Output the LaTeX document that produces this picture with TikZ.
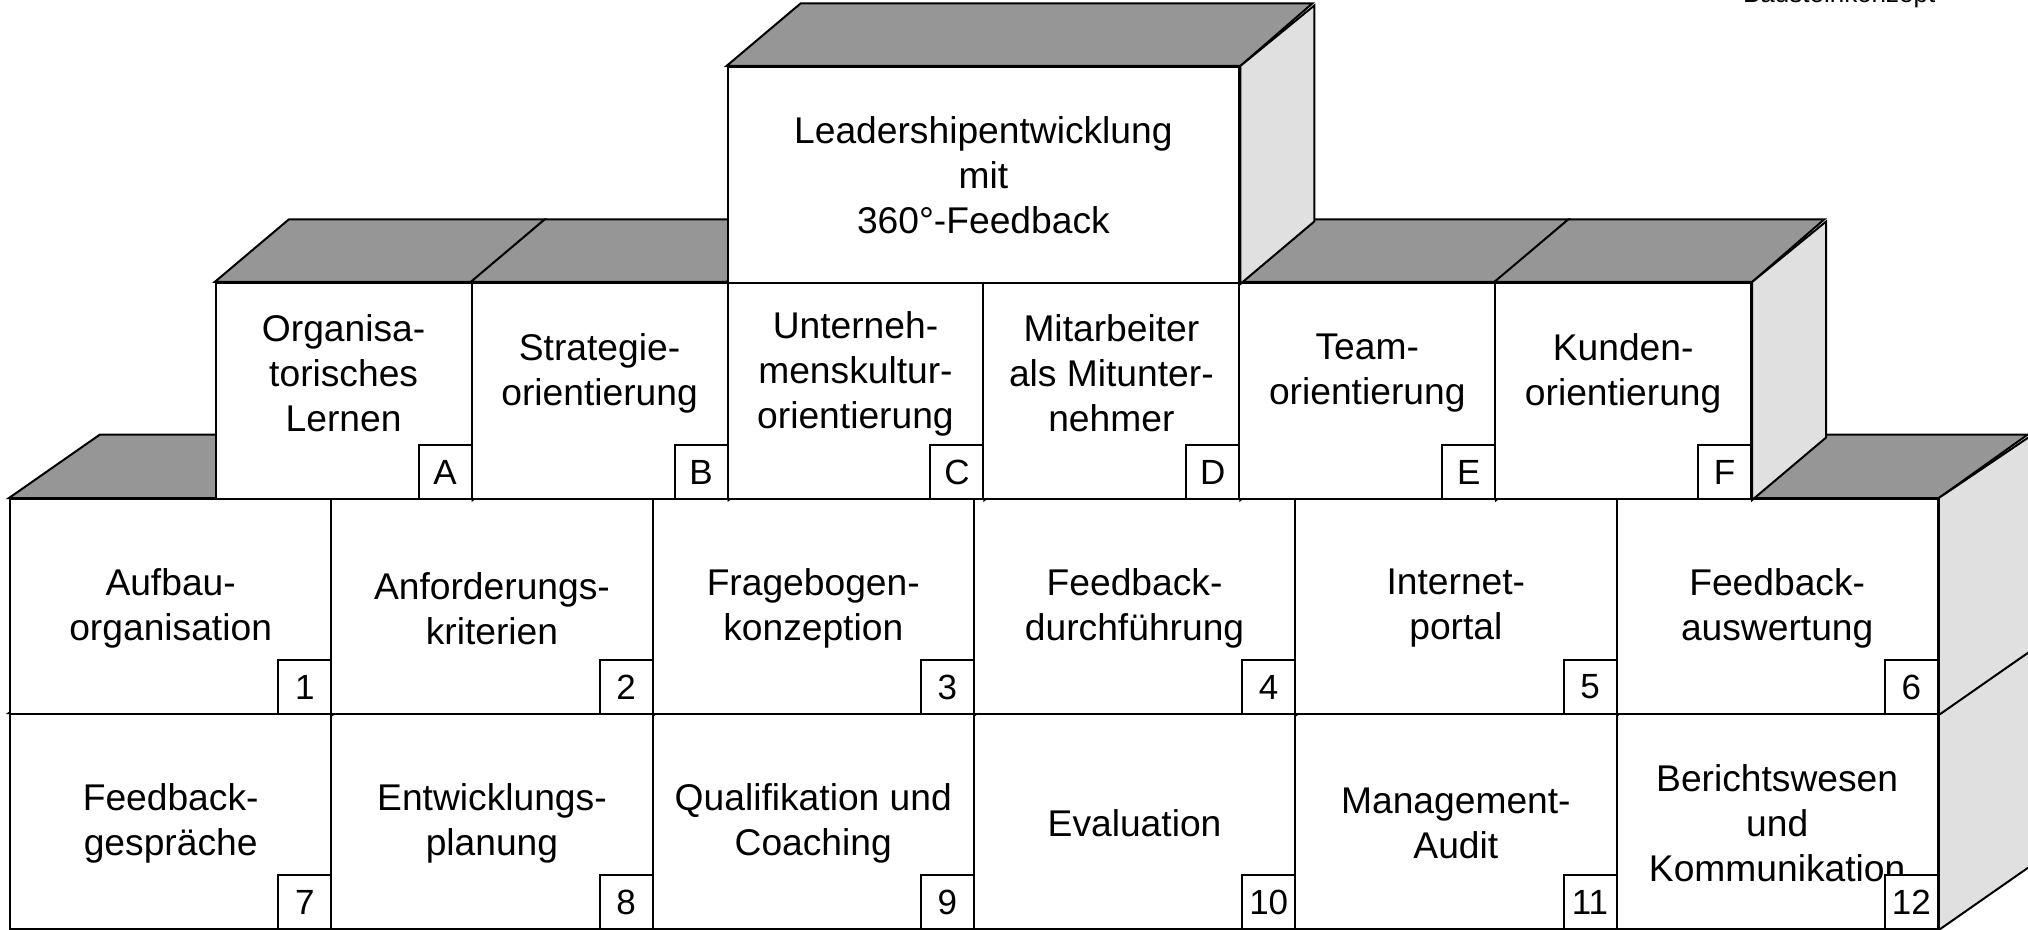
\documentclass[tikz,border=0pt]{standalone}
\usepackage{fontspec}
\setmainfont{Liberation Sans}
\usetikzlibrary{calc}
\definecolor{topgrey}{RGB}{150,150,150}
\definecolor{sidegrey}{RGB}{224,224,224}

\begin{document}
\begin{tikzpicture}[x=0.5pt,y=-0.5pt,line width=1pt,
    front/.style={draw, fill=white, inner sep=0pt, anchor=north west},
    txt/.style={font=\fontsize{18.6}{22.5}\selectfont, align=center},
    tag/.style={draw, fill=white, anchor=south east, inner sep=0pt,
        minimum width=26.5pt, minimum height=27pt,
        font=\fontsize{17.5}{20}\selectfont},
    topface/.style={draw, fill=topgrey},
    sideface/.style={draw, fill=sidegrey}]
    \useasboundingbox (0,0) rectangle (2028,930);

    \node[anchor=base east, font=\fontsize{13}{15}\selectfont] (title) at (1943,3) {Bausteinkonzept};

    % lowest row 7..12
    \foreach \t [count=\i, evaluate=\i as \n using int(\i+6),
                 evaluate=\i as \xa using 9+(\i-1)*321.3] in
        {Feedback-\\gespräche, Entwicklungs-\\planung, Qualifikation und\\Coaching,
         Evaluation, Management-\\Audit, Berichtswesen\\und\\Kommunikation}
    {
        \node[front, minimum width=160.65pt, minimum height=107.5pt] (b\n) at (\xa,713) {};
        \draw[topface] (b\n.north west) -- ++(91,-63.5) -- ++(321.3,0) -- (b\n.north east) -- cycle;
        \draw[sideface] (b\n.south east) -- ++(91,-63.5) -- ++(0,-215) -- (b\n.north east) -- cycle;
        \node[txt] (b\n-txt) at ([yshift=-1pt]b\n.center) {\t};
        \node[tag] (b\n-tag) at (b\n.south east) {\n};
    }

    % row 1..6
    \foreach \t [count=\i, evaluate=\i as \xa using 9+(\i-1)*321.3] in
        {Aufbau-\\organisation, Anforderungs-\\kriterien, Fragebogen-\\konzeption,
         Feedback-\\durchführung, Internet-\\portal, Feedback-\\auswertung}
    {
        \node[front, minimum width=160.65pt, minimum height=107.5pt] (b\i) at (\xa,498) {};
        \draw[topface] (b\i.north west) -- ++(91,-63.5) -- ++(321.3,0) -- (b\i.north east) -- cycle;
        \draw[sideface] (b\i.south east) -- ++(91,-63.5) -- ++(0,-215) -- (b\i.north east) -- cycle;
        \node[txt] (b\i-txt) at ([yshift=-1pt]b\i.center) {\t};
        \node[tag] (b\i-tag) at (b\i.south east) {\i};
    }

    % row A..F
    \foreach \t/\l [count=\i, evaluate=\i as \xa using 214.7+(\i-1)*255.9] in
        {Organisa-\\torisches\\Lernen/A, Strategie-\\orientierung/B,
         Unterneh-\\menskultur-\\orientierung/C, Mitarbeiter\\als Mitunter-\\nehmer/D,
         Team-\\orientierung/E, Kunden-\\orientierung/F}
    {
        \node[front, minimum width=127.95pt, minimum height=108pt] (m\l) at (\xa,282) {};
        \draw[topface] (m\l.north west) -- ++(74,-62.5) -- ++(255.9,0) -- (m\l.north east) -- cycle;
        \draw[sideface] (m\l.south east) -- ++(74,-62.5) -- ++(0,-216) -- (m\l.north east) -- cycle;
        \node[txt] (m\l-txt) at ([yshift=8.75pt]m\l.center) {\t};
        \node[tag] (m\l-tag) at (m\l.south east) {\l};
    }

    % top block
    \node[front, minimum width=255.9pt, minimum height=108pt] (top) at (726.5,66) {};
    \draw[topface] (top.north west) -- ++(74,-62.5) -- ++(511.8,0) -- (top.north east) -- cycle;
    \draw[sideface] (top.south east) -- ++(74,-62.5) -- ++(0,-216) -- (top.north east) -- cycle;
    \node[txt] (top-txt) at (top.center) {Leadershipentwicklung\\mit\\360°-Feedback};

\end{tikzpicture}
\end{document}
